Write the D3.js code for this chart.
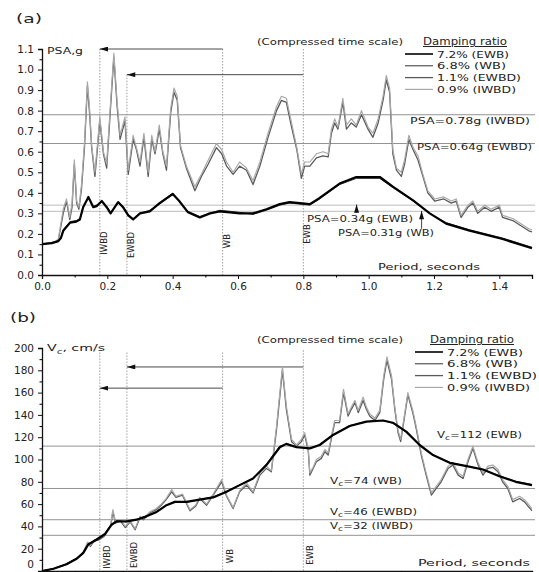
<!DOCTYPE html>
<html><head><meta charset="utf-8">
<script src="https://cdn.jsdelivr.net/npm/d3@7"></script>
<style>body{margin:0;background:#fff}svg{display:block}text{font-family:"DejaVu Sans",Arial,sans-serif;fill:#222}</style>
</head><body><svg id="c" width="539" height="572"></svg>
<script>
// ---------- DATA ----------
const seriesNames = ["7.2% (EWB)", "6.8% (WB)", "1.1% (EWBD)", "0.9% (IWBD)"];
const xTicks = [0, 0.2, 0.4, 0.6, 0.8, 1.0, 1.2, 1.4];
const yTicksA = [0, 0.1, 0.2, 0.3, 0.4, 0.5, 0.6, 0.7, 0.8, 0.9, 1.0, 1.1];
const yTicksB = [0, 20, 40, 60, 80, 100, 120, 140, 160, 180, 200];
const markPeriods = [0.177, 0.26, 0.553, 0.80];
const markLabels = ["IWBD", "EWBD", "WB", "EWB"];
const refA = [0.78, 0.64, 0.34, 0.31];
const refALabels = ["PSA=0.78g (IWBD)", "PSA=0.64g (EWBD)", "PSA=0.34g (EWB)", "PSA=0.31g (WB)"];
const refB = [112, 74, 46, 32];
const refBLabels = ["=112 (EWB)", "=74 (WB)", "=46 (EWBD)", "=32 (IWBD)"];

// Panel (a) PSA, g
const ewbA = [[0,.15],[.03,.155],[.05,.165],[.058,.18],[.065,.215],[.086,.255],[.105,.26],[.116,.27],[.126,.33],[.142,.38],[.157,.33],[.167,.335],[.183,.36],[.198,.33],[.21,.30],[.233,.355],[.248,.33],[.264,.29],[.279,.27],[.30,.30],[.33,.31],[.36,.35],[.40,.395],[.42,.36],[.447,.305],[.483,.28],[.514,.30],[.544,.31],[.575,.305],[.605,.30],[.646,.30],[.687,.32],[.728,.345],[.758,.355],[.82,.345],[.85,.375],[.911,.445],[.962,.477],[1.034,.477],[1.074,.43],[1.136,.363],[1.187,.30],[1.237,.25],[1.309,.216],[1.41,.175],[1.5,.13]];
const wbA = [[0,.15],[.03,.156],[.05,.167],[.058,.185],[.065,.22],[.086,.26],[.105,.265],[.116,.275],[.126,.335],[.142,.375],[.157,.335],[.167,.34],[.183,.355],[.198,.335],[.21,.305],[.233,.35],[.248,.335],[.264,.295],[.279,.275],[.30,.30],[.33,.315],[.36,.345],[.40,.39],[.42,.36],[.447,.31],[.483,.285],[.514,.30],[.544,.315],[.575,.31],[.605,.305],[.646,.295],[.687,.315],[.728,.34],[.758,.35],[.82,.34],[.85,.37],[.911,.44],[.962,.47],[1.034,.47],[1.074,.425],[1.136,.36],[1.187,.30],[1.237,.255],[1.309,.22],[1.41,.18],[1.5,.135]];
const ewbdA = [[0,.15],[.02,.155],[.04,.16],[.05,.17],[.065,.30],[.075,.36],[.085,.27],[.092,.33],[.099,.54],[.106,.35],[.113,.32],[.121,.42],[.13,.62],[.139,.92],[.146,.78],[.152,.62],[.162,.48],[.17,.62],[.177,.75],[.188,.59],[.198,.52],[.21,.82],[.22,1.06],[.23,.82],[.239,.66],[.254,.75],[.264,.49],[.279,.66],[.289,.61],[.30,.53],[.312,.67],[.325,.48],[.336,.66],[.346,.59],[.359,.71],[.37,.59],[.381,.51],[.394,.79],[.404,.89],[.414,.85],[.424,.62],[.442,.52],[.468,.41],[.488,.48],[.509,.54],[.534,.62],[.55,.59],[.565,.53],[.585,.49],[.605,.53],[.626,.51],[.646,.44],[.667,.53],[.692,.67],[.718,.80],[.733,.85],[.748,.84],[.764,.72],[.78,.61],[.794,.47],[.804,.53],[.82,.53],[.84,.57],[.86,.58],[.876,.575],[.886,.69],[.896,.74],[.906,.71],[.921,.84],[.932,.71],[.947,.74],[.962,.72],[.978,.78],[.998,.71],[1.013,.67],[1.029,.74],[1.044,.85],[1.054,.95],[1.064,.89],[1.074,.59],[1.085,.51],[1.10,.48],[1.11,.54],[1.123,.66],[1.136,.61],[1.151,.56],[1.166,.48],[1.181,.40],[1.202,.36],[1.23,.37],[1.253,.35],[1.268,.36],[1.283,.28],[1.304,.33],[1.319,.35],[1.334,.30],[1.355,.33],[1.375,.31],[1.40,.33],[1.41,.28],[1.441,.265],[1.49,.215],[1.5,.21]];
const iwbdA = [[0,.15],[.02,.155],[.04,.162],[.05,.175],[.065,.32],[.075,.37],[.085,.28],[.092,.35],[.099,.56],[.106,.36],[.113,.33],[.121,.44],[.13,.64],[.139,.94],[.146,.80],[.152,.63],[.162,.50],[.17,.64],[.177,.77],[.188,.60],[.198,.54],[.21,.84],[.22,1.08],[.23,.84],[.239,.68],[.254,.77],[.264,.51],[.279,.68],[.289,.62],[.30,.55],[.312,.69],[.325,.50],[.336,.68],[.346,.60],[.359,.73],[.37,.60],[.381,.53],[.394,.81],[.404,.91],[.414,.87],[.424,.63],[.442,.53],[.468,.43],[.488,.49],[.509,.56],[.534,.64],[.55,.61],[.565,.55],[.585,.50],[.605,.55],[.626,.52],[.646,.46],[.667,.55],[.692,.69],[.718,.82],[.733,.87],[.748,.86],[.764,.74],[.78,.62],[.794,.49],[.804,.55],[.82,.55],[.84,.59],[.86,.60],[.876,.59],[.886,.71],[.896,.76],[.906,.72],[.921,.86],[.932,.73],[.947,.76],[.962,.73],[.978,.80],[.998,.72],[1.013,.69],[1.029,.76],[1.044,.87],[1.054,.97],[1.064,.91],[1.074,.61],[1.085,.52],[1.10,.50],[1.11,.56],[1.123,.68],[1.136,.62],[1.151,.58],[1.166,.49],[1.181,.41],[1.202,.37],[1.23,.38],[1.253,.36],[1.268,.37],[1.283,.29],[1.304,.34],[1.319,.36],[1.334,.31],[1.355,.34],[1.375,.32],[1.40,.34],[1.41,.29],[1.441,.275],[1.49,.225],[1.5,.22]];

// Panel (b) Vc, cm/s
const ewbB = [[0,0],[.035,2],[.075,6],[.106,11],[.126,16],[.142,24],[.167,28],[.193,33],[.213,41.5],[.228,44.5],[.259,44.5],[.29,46],[.32,49],[.351,53],[.381,59],[.407,62],[.442,62],[.483,64],[.524,66],[.565,71],[.605,77],[.646,83],[.687,95],[.728,111],[.748,114],[.779,111],[.82,110],[.85,113],[.891,122],[.942,130],[.993,134],[1.044,135],[1.074,133],[1.115,125],[1.156,113],[1.197,104],[1.248,97],[1.30,94],[1.35,91],[1.40,85],[1.45,80],[1.50,77]];
const wbB = [[0,0],[.035,2],[.075,6.5],[.106,11.5],[.126,17],[.142,24],[.167,29],[.193,34],[.213,42],[.228,45],[.259,44],[.29,46.5],[.32,49.5],[.351,53.5],[.381,59],[.407,62.5],[.442,61.5],[.483,64],[.524,66.5],[.565,71.5],[.605,77],[.646,83],[.687,96],[.728,112],[.748,114],[.779,111.5],[.82,110],[.85,113.5],[.891,122],[.942,130.5],[.993,134],[1.044,135],[1.074,132.5],[1.115,124.5],[1.156,112.5],[1.197,104],[1.248,97.5],[1.30,94],[1.35,91],[1.40,85.5],[1.45,80.5],[1.50,77.5]];
const ewbdB = [[0,0],[.035,2],[.075,6],[.106,11],[.126,16],[.14,25],[.148,22],[.16,27],[.175,28],[.19,31],[.2,36],[.21,40],[.217,53],[.225,43],[.24,45],[.255,39],[.27,44],[.285,37],[.30,48],[.31,46],[.33,52],[.35,55],[.365,59],[.38,64],[.397,71],[.41,66],[.43,68],[.44,62],[.453,54],[.47,58],[.483,65],[.504,59],[.524,68],[.55,80],[.565,67],[.585,56],[.605,71],[.626,77],[.646,70],[.667,86],[.687,92],[.702,89],[.718,127],[.736,180],[.748,145],[.764,116],[.779,112],[.794,116],[.804,122],[.815,108],[.82,86],[.83,92],[.84,98],[.855,101],[.866,107],[.876,104],[.886,119],[.896,133],[.911,133],[.923,160],[.937,139],[.947,145],[.958,151],[.968,142],[.983,153],[.993,145],[1.003,139],[1.019,135],[1.034,142],[1.046,172],[1.056,189],[1.07,172],[1.08,145],[1.09,124],[1.098,116],[1.107,133],[1.12,158],[1.135,142],[1.146,127],[1.161,104],[1.176,86],[1.192,68],[1.207,74],[1.222,80],[1.243,92],[1.258,95],[1.274,86],[1.289,83],[1.304,98],[1.319,110],[1.335,95],[1.35,86],[1.365,92],[1.38,93],[1.396,89],[1.41,80],[1.426,74],[1.441,62],[1.462,65],[1.477,62],[1.497,55],[1.5,54]];
const iwbdB = [[0,0],[.035,2],[.075,6.5],[.106,11.5],[.126,17],[.14,26],[.148,23],[.16,28],[.175,29],[.19,32],[.2,37],[.21,41],[.217,55],[.225,44],[.24,46],[.255,40],[.27,45],[.285,38],[.30,49],[.31,47],[.33,53],[.35,56],[.365,60],[.38,65],[.397,73],[.41,67],[.43,69],[.44,63],[.453,55],[.47,59],[.483,66],[.504,60],[.524,69],[.55,82],[.565,68],[.585,57],[.605,72],[.626,79],[.646,71],[.667,88],[.687,94],[.702,90],[.718,130],[.736,183],[.748,148],[.764,118],[.779,113],[.794,118],[.804,124],[.815,110],[.82,88],[.83,93],[.84,100],[.855,103],[.866,109],[.876,106],[.886,121],[.896,135],[.911,135],[.923,163],[.937,141],[.947,147],[.958,153],[.968,144],[.983,156],[.993,147],[1.003,141],[1.019,137],[1.034,144],[1.046,175],[1.056,192],[1.07,175],[1.08,147],[1.09,126],[1.098,118],[1.107,135],[1.12,160],[1.135,144],[1.146,129],[1.161,106],[1.176,88],[1.192,70],[1.207,76],[1.222,82],[1.243,94],[1.258,97],[1.274,88],[1.289,85],[1.304,100],[1.319,112],[1.335,97],[1.35,88],[1.365,94],[1.38,95],[1.396,91],[1.41,82],[1.426,76],[1.441,64],[1.462,67],[1.477,64],[1.497,57],[1.5,56]];

// ---------- DRAW ----------
const svg = d3.select("#c");
svg.append("rect").attr("width", 539).attr("height", 572).attr("fill", "#fff");
const defs = svg.append("defs");
defs.append("marker").attr("id", "arr").attr("viewBox", "0 0 10 6").attr("refX", 10).attr("refY", 3)
  .attr("markerWidth", 9).attr("markerHeight", 5).attr("orient", "auto").attr("markerUnits", "userSpaceOnUse")
  .append("path").attr("d", "M0,0 L10,3 L0,6 Z").attr("fill", "#111");

const styles = [
  {stroke: "#000", width: 2.2},
  {stroke: "#333", width: 1.0},
  {stroke: "#5a5a5a", width: 1.3},
  {stroke: "#a8a8a8", width: 1.2}
];

function txt(g, x, y, s, size, w) {
  const t = g.append("text").attr("x", x).attr("y", y).attr("font-size", size).text(s);
  if (w) t.attr("textLength", w).attr("lengthAdjust", "spacingAndGlyphs");
  return t;
}

function drawPanel(cfg) {
  const g = svg.append("g");
  const x = cfg.x, y = cfg.y;
  const [x0, x1] = x.range();
  cfg.refs.forEach((r, i) => {
    g.append("line").attr("x1", x0).attr("x2", x1 + 3).attr("y1", y(r)).attr("y2", y(r))
      .attr("stroke", cfg.refColor[i]).attr("stroke-width", 0.8);
  });
  markPeriods.forEach((p, i) => {
    g.append("line").attr("x1", x(p)).attr("x2", x(p)).attr("y1", y(cfg.markTop[i])).attr("y2", y(0))
      .attr("stroke", "#888").attr("stroke-width", 0.8).attr("stroke-dasharray", "1.5,1.5");
    g.append("text").attr("transform", `translate(${x(p) + cfg.markDx},${cfg.markY[i]}) rotate(-90)`)
      .attr("text-anchor", "middle").attr("font-size", 8.5).text(markLabels[i]);
  });
  cfg.arrows.forEach(a => {
    g.append("line").attr("x1", x(a[0])).attr("x2", x(a[1])).attr("y1", y(a[2])).attr("y2", y(a[2]))
      .attr("stroke", "#333").attr("stroke-width", 0.9).attr("marker-end", "url(#arr)");
  });
  const line = d3.line().x(d => x(d[0])).y(d => y(d[1]));
  [2, 3, 1, 0].forEach(k => {
    g.append("path").datum(cfg.series[k]).attr("d", line).attr("fill", "none")
      .attr("stroke", styles[k].stroke).attr("stroke-width", styles[k].width).attr("stroke-linejoin", "round");
  });
  const ax = g.append("g").attr("transform", `translate(0,${y(0)})`)
    .call(d3.axisBottom(x).tickValues(xTicks).tickFormat(cfg.showX ? d3.format(".1f") : "").tickSize(4).tickPadding(4));
  g.append("g").attr("transform", `translate(0,${y(0)})`)
    .call(d3.axisBottom(x).tickValues(xTicks.map(t => t + 0.1)).tickFormat("").tickSize(2.5))
    .select(".domain").remove();
  const ay = g.append("g").attr("transform", `translate(${x0},0)`)
    .call(d3.axisLeft(y).tickValues(cfg.yTicks).tickFormat(cfg.yFmt).tickSize(4).tickPadding(4));
  const step = cfg.yTicks[1] - cfg.yTicks[0];
  g.append("g").attr("transform", `translate(${x0},0)`)
    .call(d3.axisLeft(y).tickValues(cfg.yTicks.slice(0, -1).map(t => t + step / 2)).tickFormat("").tickSize(2.5))
    .select(".domain").remove();
  [ax, ay].forEach(a => {
    a.selectAll("text").attr("font-size", 10.5).attr("fill", "#333").attr("font-family", "DejaVu Sans, Arial, sans-serif");
    a.selectAll("line,path").attr("stroke", "#111");
  });
  if (cfg.liftZero) ay.selectAll(".tick text").filter(d => d === 0).attr("dy", "-0.3em");
  ax.select(".domain").attr("stroke-width", 1.3);
  ay.select(".domain").attr("stroke-width", 1.3);
  const lg = g.append("g");
  seriesNames.forEach((n, i) => {
    const ly = cfg.legY + i * 11.8;
    lg.append("line").attr("x1", cfg.legX).attr("x2", cfg.legX + 28).attr("y1", ly).attr("y2", ly)
      .attr("stroke", styles[i].stroke).attr("stroke-width", i === 0 ? 1.6 : styles[i].width);
    txt(lg, cfg.legX + 32, ly + 3.5, n, 9.5, cfg.legW[i]);
  });
  txt(g, 257, cfg.legY - 9, "(Compressed time scale)", 9.5, 146);
  txt(g, cfg.dampX, cfg.legY - 9, "Damping ratio", 10, 84).attr("text-decoration", "underline");
  return g;
}

// ----- Panel (a)
const xA = d3.scaleLinear().domain([0, 1.5]).range([42, 532]);
const yA = d3.scaleLinear().domain([0, 1.1]).range([275, 49]);
const gA = drawPanel({
  x: xA, y: yA, yTicks: yTicksA, yFmt: d3.format(".1f"), showX: true,
  series: [ewbA, wbA, ewbdA, iwbdA],
  refs: refA, refColor: ["#777", "#777", "#aaa", "#aaa"],
  markTop: [1.1, 0.975, 1.1, 1.1], markDx: 7, markY: [243, 245, 241, 234],
  arrows: [[0.553, 0.177, 1.1], [0.80, 0.26, 0.975]],
  legX: 405, legY: 54, dampX: 423, legW: [72, 69, 84, 79]
});
txt(gA, 16, 23, "(a)", 12, 26);
txt(gA, 47, 53.5, "PSA,g", 9.5, 36);
const refAPos = [[410, 124], [417, 150], [307, 222], [338, 236]];
const refAW = [120, 115, 106, 96];
refALabels.forEach((t, i) => txt(gA, refAPos[i][0], refAPos[i][1], t, 8.5, refAW[i]));
[[0.963, 0.305, 0.343], [1.162, 0.225, 0.312]].forEach(a => {
  gA.append("line").attr("x1", xA(a[0])).attr("x2", xA(a[0])).attr("y1", yA(a[1])).attr("y2", yA(a[2]))
    .attr("stroke", "#333").attr("stroke-width", 0.9).attr("marker-end", "url(#arr)");
});
txt(gA, 378, 270, "Period, seconds", 9.5, 102);

// ----- Panel (b)
const xB = d3.scaleLinear().domain([0, 1.5]).range([42, 532]);
const yB = d3.scaleLinear().domain([0, 200]).range([571, 348]);
const gB = drawPanel({
  x: xB, y: yB, yTicks: yTicksB, yFmt: d3.format("d"), showX: false, liftZero: true,
  series: [ewbB, wbB, ewbdB, iwbdB],
  refs: refB, refColor: ["#777", "#777", "#777", "#777"],
  markTop: [196, 196, 196, 198], markDx: 10, markY: [557, 555, 556, 555],
  arrows: [[0.80, 0.26, 183], [0.553, 0.177, 164]],
  legX: 415, legY: 352, dampX: 430, legW: [76, 71, 90, 83]
});
txt(gB, 10, 322, "(b)", 12, 26);
const vl = gB.append("text").attr("x", 47).attr("y", 351).attr("font-size", 9.5)
  .attr("textLength", 58).attr("lengthAdjust", "spacingAndGlyphs");
vl.append("tspan").text("V");
vl.append("tspan").attr("dy", 2.5).attr("font-size", 7).text("c");
vl.append("tspan").attr("dy", -2.5).text(", cm/s");
const refBPos = [[437, 438], [330, 484], [330, 515], [330, 529]];
const refBW = [85, 72, 87, 83];
refBLabels.forEach((t, i) => {
  const tx = gB.append("text").attr("x", refBPos[i][0]).attr("y", refBPos[i][1]).attr("font-size", 8.5)
    .attr("textLength", refBW[i]).attr("lengthAdjust", "spacingAndGlyphs");
  tx.append("tspan").text("V");
  tx.append("tspan").attr("dy", 2).attr("font-size", 6.5).text("c");
  tx.append("tspan").attr("dy", -2).text(t);
});
txt(gB, 418, 566, "Period, seconds", 9.5, 112);
</script></body></html>
